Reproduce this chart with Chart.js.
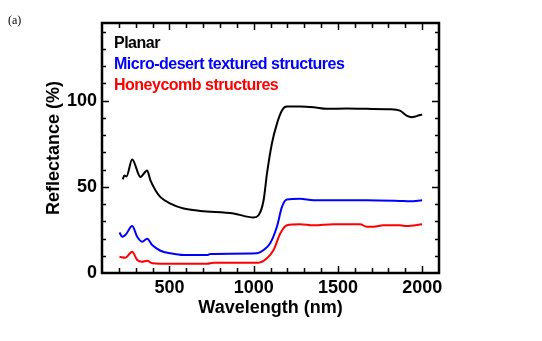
<!DOCTYPE html>
<html>
<head>
<meta charset="utf-8">
<script src="https://cdn.jsdelivr.net/npm/chart.js@4/dist/chart.umd.min.js"></script>
<style>
html,body{margin:0;padding:0;background:#fff;}
#wrap{width:542px;height:341px;position:relative;}
</style>
</head>
<body>
<div id="wrap"><canvas id="c" width="542" height="341"></canvas></div>
<script>
// ---- data ----
const planarX = [223,233,245,279,328,368,387,417,447,506,585,684,881,999,1029,1059,1079,1108,1138,1168,1197,1276,1355,1434,1553,1671,1809,1868,1908,1938,1967,2000];
const planarY = [54.3,56.6,56.0,65.9,55.7,59.5,53.8,48.0,44.0,40.3,37.4,36.0,34.5,32.2,33.5,42.2,57.6,75.0,86.5,94.2,96.5,96.5,96.1,95.2,95.4,95.2,95.0,94.2,91.3,90.4,91.0,91.9];

const microX = [204,220,239,279,309,338,368,398,447,506,585,723,743,1019,1059,1098,1138,1168,1197,1276,1355,1671,1868,1927,2000];
const microY = [23.5,21.0,22.0,27.2,21.0,18.1,19.8,16.2,12.9,11.4,10.4,10.4,11.0,11.4,13.3,17.2,26.8,38.3,42.6,43.0,42.2,42.2,41.8,41.6,42.2];

const honeyX = [204,239,279,309,338,368,398,447,723,763,1029,1079,1118,1158,1197,1276,1355,1474,1632,1671,1711,1770,1868,1908,2000];
const honeyY = [9.4,8.9,12.3,7.5,6.5,7.1,5.6,5.4,5.4,6.0,6.0,8.5,13.3,22.9,27.7,28.3,27.7,28.3,28.3,26.8,26.8,27.7,27.7,27.2,28.3];

const seriesNames = ["Planar","Micro-desert textured structures","Honeycomb structures"];
const xTickLabels = [500,1000,1500,2000];
const yTickLabels = [0,50,100];
const xMinorTicks = [200,300,400,500,600,700,800,900,1000,1100,1200,1300,1400,1500,1600,1700,1800,1900,2000];
const yMinorTicks = [10,20,30,40,50,60,70,80,90,100,110,120,130,140];
const xAxisTitle = "Wavelength (nm)";
const yAxisTitle = "Reflectance (%)";
const panelLabel = "(a)";

const colors = ["#000000","#0000ff","#ff0000"];

function pts(xs, ys){ return xs.map((x,i)=>({x:x,y:ys[i]})); }

const FONT = "'Liberation Sans', Arial, sans-serif";

const decor = {
  id:'decor',
  afterDraw(chart){
    const ctx = chart.ctx;
    const a = chart.chartArea;
    const xs = chart.scales.x, ys = chart.scales.y;
    ctx.save();
    ctx.strokeStyle = '#000';
    ctx.lineWidth = 1.5;
    ctx.beginPath();
    xMinorTicks.forEach(v=>{
      const px = Math.round(xs.getPixelForValue(v))+0.5;
      const len = (v%500===0)?7:5;
      ctx.moveTo(px,a.bottom); ctx.lineTo(px,a.bottom-len);
      ctx.moveTo(px,a.top); ctx.lineTo(px,a.top+len);
    });
    yMinorTicks.forEach(v=>{
      const py = Math.round(ys.getPixelForValue(v))+0.5;
      const len = (v%50===0)?7:4;
      ctx.moveTo(a.left,py); ctx.lineTo(a.left+len,py);
      ctx.moveTo(a.right,py); ctx.lineTo(a.right-len,py);
    });
    ctx.stroke();
    ctx.lineWidth = 2.5;
    ctx.strokeRect(a.left, a.top, a.right-a.left, a.bottom-a.top);
    ctx.font = "bold 16px " + FONT;
    try{ ctx.letterSpacing = "-0.5px"; }catch(e){}
    ctx.textBaseline = 'middle';
    ctx.textAlign = 'left';
    const ly = [44,65,86];
    chart.data.datasets.forEach((d,i)=>{
      ctx.fillStyle = d.borderColor;
      ctx.fillText(d.label, 114, ly[i]);
    });
    try{ ctx.letterSpacing = "0px"; }catch(e){}
    ctx.fillStyle = '#000';
    ctx.font = "12px 'Liberation Serif', serif";
    ctx.fillText(panelLabel, 8, 21);
    ctx.restore();
  }
};

new Chart(document.getElementById('c'), {
  type:'line',
  data:{
    datasets:[
      {label:seriesNames[0], data:pts(planarX,planarY), borderColor:colors[0]},
      {label:seriesNames[1], data:pts(microX,microY), borderColor:colors[1]},
      {label:seriesNames[2], data:pts(honeyX,honeyY), borderColor:colors[2]}
    ].map(d=>Object.assign(d,{borderWidth:2,pointRadius:0,fill:false,cubicInterpolationMode:'monotone'}))
  },
  options:{
    responsive:false,
    animation:false,
    events:[],
    layout:{padding:{left:39,top:23,right:103,bottom:0}},
    plugins:{legend:{display:false},tooltip:{enabled:false}},
    scales:{
      x:{
        type:'linear', min:100, max:2100,
        afterBuildTicks(s){ s.ticks = xTickLabels.map(v=>({value:v})); },
        afterFit(s){ s.height = 68; },
        grid:{display:false, drawTicks:false}, border:{display:false},
        ticks:{color:'#000', font:{family:FONT, size:18, weight:'bold'}, padding:4, maxRotation:0, autoSkip:false, callback:v=>String(v)},
        title:{display:true, text:xAxisTitle, color:'#000', font:{family:FONT, size:18, weight:'bold'}, padding:{top:0,bottom:22}}
      },
      y:{
        type:'linear', min:0, max:145,
        afterBuildTicks(s){ s.ticks = yTickLabels.map(v=>({value:v})); },
        afterFit(s){ s.width = 63; },
        grid:{display:false, drawTicks:false}, border:{display:false},
        ticks:{color:'#000', font:{family:FONT, size:18, weight:'bold'}, padding:5, autoSkip:false, callback:v=>String(v)},
        title:{display:true, text:yAxisTitle, color:'#000', font:{family:FONT, size:18, weight:'bold'}, padding:{top:4,bottom:0}}
      }
    }
  },
  plugins:[decor]
});
</script>
</body>
</html>
